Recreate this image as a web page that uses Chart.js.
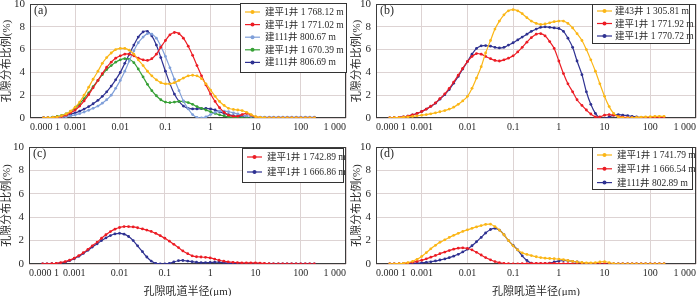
<!DOCTYPE html>
<html>
<head>
<meta charset="utf-8">
<script src="https://cdn.jsdelivr.net/npm/chart.js@4.4.1/dist/chart.umd.min.js"></script>
<style>
  html, body { margin: 0; padding: 0; background: #fff; }
  body { position: relative; width: 700px; height: 296px; overflow: hidden; }
  .panel { position: absolute; }
  canvas { display: block; }
</style>
</head>
<body>
<div class="panel" style="left:0;top:-4px"><canvas id="chartA" width="350" height="138"></canvas></div>
<div class="panel" style="left:350px;top:-4px"><canvas id="chartB" width="350" height="138"></canvas></div>
<div class="panel" style="left:0;top:141px"><canvas id="chartC" width="350" height="158"></canvas></div>
<div class="panel" style="left:350px;top:141px"><canvas id="chartD" width="350" height="158"></canvas></div>
<script>
// pore throat radius (um), shared by every curve
const radius = [
  0.0002, 0.00025, 0.00032, 0.0004, 0.0005, 0.00063, 0.00079,
  0.001, 0.00126, 0.00158, 0.002, 0.0025, 0.0032, 0.004, 0.005, 0.0063, 0.0079,
  0.01, 0.0126, 0.0158, 0.02, 0.025, 0.032, 0.04, 0.05, 0.063, 0.079,
  0.1, 0.126, 0.158, 0.2, 0.25, 0.32, 0.4, 0.5, 0.63, 0.79,
  1, 1.26, 1.58, 2, 2.5, 3.2, 4, 5, 6.3, 7.9,
  10, 12.6, 15.8, 20, 25, 32, 40, 50, 63, 79,
  100, 126, 158, 200
];
const tickValues = [0.0001, 0.001, 0.01, 0.1, 1, 10, 100, 1000];
const tickLabels = ['0.000 1', '0.001', '0.01', '0.1', '1', '10', '100', '1 000'];

// (a)
const labelsA = ['建平1井 1 768.12 m', '建平1井 1 771.02 m', '建111井 800.67 m', '建平1井 1 670.39 m', '建111井 806.69 m'];
const a1768 = [
  0, 0.02, 0.05, 0.1, 0.2, 0.35, 0.6,
  0.95, 1.4, 2.0, 2.7, 3.4, 4.1, 4.8, 5.3, 5.7, 6.0,
  6.1, 6.1, 5.95, 5.6, 5.1, 4.6, 4.1, 3.7, 3.35, 3.1,
  3.0, 3.0, 3.1, 3.3, 3.5, 3.7, 3.75, 3.7, 3.45, 3.0,
  2.45, 1.9, 1.45, 1.1, 0.85, 0.75, 0.7, 0.65, 0.5, 0.3,
  0.12, 0.05, 0.02, 0, 0, 0, 0, 0, 0, 0,
  0, 0, 0, 0
];
const a1771 = [
  0, 0.01, 0.03, 0.07, 0.13, 0.25, 0.45,
  0.7, 1.05, 1.5, 2.05, 2.65, 3.3, 3.9, 4.45, 4.9, 5.25,
  5.45, 5.6, 5.6, 5.45, 5.25, 5.1, 5.05, 5.2, 5.6, 6.2,
  6.8, 7.3, 7.5, 7.4, 7.0, 6.3, 5.5, 4.6, 3.7, 2.9,
  2.1, 1.45, 0.9, 0.5, 0.25, 0.15, 0.15, 0.3, 0.4, 0.25,
  0.08, 0.02, 0, 0, 0, 0, 0, 0, 0, 0,
  0, 0, 0, 0
];
const a800 = [
  0, 0.01, 0.02, 0.05, 0.08, 0.12, 0.18,
  0.27, 0.38, 0.52, 0.68, 0.85, 1.05, 1.3, 1.6, 2.0, 2.6,
  3.3, 4.1, 5.0, 5.9, 6.6, 7.1, 7.4, 7.35, 7.0, 6.3,
  5.4, 4.4, 3.4, 2.4, 1.5, 0.8, 0.3, 0.05, 0, 0.1,
  0.3, 0.5, 0.6, 0.6, 0.55, 0.45, 0.35, 0.25, 0.2, 0.15,
  0.1, 0.08, 0.08, 0.08, 0.08, 0.08, 0.08, 0.08, 0.08, 0.08,
  0.08, 0.08, 0.08, 0.08
];
const a1670 = [
  0, 0.03, 0.07, 0.13, 0.22, 0.37, 0.58,
  0.88, 1.25, 1.7, 2.2, 2.75, 3.3, 3.8, 4.25, 4.6, 4.9,
  5.1, 5.2, 5.15, 4.85, 4.3, 3.6, 2.95, 2.4, 1.95, 1.6,
  1.4, 1.35, 1.4, 1.45, 1.45, 1.35, 1.2, 1.0, 0.85, 0.7,
  0.55, 0.4, 0.28, 0.18, 0.1, 0.05, 0.03, 0, 0, 0,
  0, 0, 0, 0, 0, 0, 0, 0, 0, 0,
  0, 0, 0, 0
];
const a806 = [
  0, 0.02, 0.05, 0.09, 0.15, 0.23, 0.33,
  0.45, 0.6, 0.78, 1.0, 1.25, 1.55, 1.9, 2.3, 2.8, 3.35,
  4.0, 4.8, 5.6, 6.4, 7.1, 7.55, 7.6, 7.2, 6.4, 5.3,
  4.1, 3.0, 2.1, 1.45, 1.05, 0.85, 0.8, 0.8, 0.82, 0.85,
  0.8, 0.7, 0.55, 0.4, 0.3, 0.2, 0.15, 0.1, 0.06, 0.03,
  0.01, 0, 0, 0, 0, 0, 0, 0, 0, 0,
  0, 0, 0, 0
];

// (b)
const labelsB = ['建43井 1 305.81 m', '建平1井 1 771.92 m', '建平1井 1 770.72 m'];
const b1305 = [
  0, 0.02, 0.04, 0.07, 0.1, 0.14, 0.19,
  0.25, 0.3, 0.37, 0.45, 0.55, 0.65, 0.78, 0.95, 1.2, 1.5,
  1.9, 2.6, 3.5, 4.5, 5.7, 6.8, 7.8, 8.5, 9.05, 9.4,
  9.5, 9.4, 9.15, 8.8, 8.5, 8.3, 8.2, 8.25, 8.35, 8.45,
  8.5, 8.5, 8.3, 7.9, 7.4, 6.8, 6.0, 5.1, 4.1, 3.0,
  1.9, 1.0, 0.4, 0.1, 0.02, 0, 0.02, 0.05, 0.08, 0.1,
  0.12, 0.14, 0.15, 0.15
];
const b1771 = [
  0, 0.02, 0.05, 0.1, 0.17, 0.27, 0.4,
  0.57, 0.78, 1.03, 1.33, 1.7, 2.12, 2.6, 3.15, 3.75, 4.35,
  4.95, 5.4, 5.65, 5.6, 5.4, 5.2, 5.05, 5.0, 5.1, 5.25,
  5.45, 5.8, 6.2, 6.65, 7.05, 7.35, 7.4, 7.2, 6.7, 6.1,
  5.0, 3.9, 3.0, 2.3, 1.6, 1.1, 0.7, 0.35, 0.1, 0.1,
  0.25, 0.3, 0.25, 0.15, 0.08, 0.04, 0.02, 0.02, 0.02, 0.02,
  0.02, 0.02, 0.02, 0.02
];
const b1770 = [
  0, 0.02, 0.05, 0.1, 0.17, 0.27, 0.4,
  0.57, 0.78, 1.02, 1.3, 1.65, 2.05, 2.5, 3.05, 3.65, 4.3,
  4.95, 5.6, 6.1, 6.33, 6.35, 6.3, 6.2, 6.15, 6.2, 6.4,
  6.6, 6.85, 7.1, 7.35, 7.6, 7.8, 7.95, 8.0, 7.95, 7.9,
  7.85, 7.6, 7.0, 6.2, 5.0, 3.8, 2.3, 1.2, 0.4, 0,
  -0.05, 0.1, 0.25, 0.3, 0.25, 0.2, 0.15, 0.1, 0.05, 0.02,
  0, 0, 0, 0
];

// (c)
const labelsC = ['建平1井 1 742.89 m', '建平1井 1 666.86 m'];
const c1742 = [
  0, 0.01, 0.03, 0.06, 0.11, 0.2, 0.33,
  0.5, 0.72, 0.97, 1.25, 1.55, 1.87, 2.2, 2.5, 2.77, 2.98,
  3.12, 3.2, 3.2, 3.17, 3.1, 3.0, 2.9, 2.78, 2.62, 2.42,
  2.2, 1.95, 1.68, 1.4, 1.12, 0.88, 0.7, 0.62, 0.6, 0.57,
  0.52, 0.42, 0.32, 0.24, 0.18, 0.14, 0.12, 0.1, 0.1, 0.1,
  0.1, 0.08, 0.05, 0.02, 0, 0, 0, 0, 0, 0,
  0, 0, 0, 0
];
const c1666 = [
  0, 0.01, 0.02, 0.04, 0.08, 0.16, 0.28,
  0.45, 0.66, 0.9, 1.17, 1.45, 1.73, 2.0, 2.23, 2.43, 2.57,
  2.62, 2.55, 2.35, 2.0, 1.55, 1.05, 0.6, 0.25, 0.05, 0,
  0, 0.05, 0.18, 0.28, 0.3, 0.25, 0.2, 0.15, 0.12, 0.12,
  0.13, 0.15, 0.15, 0.12, 0.08, 0.05, 0.02, 0, 0, 0,
  0, 0, 0, 0, 0, 0, 0, 0, 0, 0,
  0, 0, 0, 0
];

// (d)
const labelsD = ['建平1井 1 741.79 m', '建平1井 1 666.54 m', '建111井 802.89 m'];
const d1741 = [
  0, 0.01, 0.03, 0.06, 0.12, 0.23, 0.4,
  0.65, 0.97, 1.3, 1.6, 1.85, 2.07, 2.27, 2.45, 2.62, 2.78,
  2.92, 3.05, 3.17, 3.28, 3.38, 3.4, 3.2, 2.9, 2.5, 2.0,
  1.55, 1.2, 0.95, 0.82, 0.72, 0.62, 0.55, 0.5, 0.47, 0.45,
  0.42, 0.37, 0.3, 0.23, 0.17, 0.13, 0.1, 0.1, 0.12, 0.17,
  0.2, 0.12, 0.03, 0, 0, 0, 0, 0, 0, 0,
  0, 0, 0, 0
];
const d1666 = [
  0, 0.01, 0.02, 0.04, 0.08, 0.14, 0.22,
  0.32, 0.44, 0.58, 0.73, 0.88, 1.02, 1.15, 1.27, 1.35, 1.38,
  1.33, 1.2, 1.0, 0.77, 0.55, 0.36, 0.21, 0.11, 0.05, 0.02,
  0, 0, 0.02, 0.04, 0.05, 0.05, 0.05, 0.05, 0.05, 0.05,
  0.04, 0.03, 0.02, 0.01, 0, 0, 0, 0, 0, 0,
  0, 0, 0, 0, 0, 0, 0, 0, 0, 0,
  0, 0, 0, 0
];
const d802 = [
  0, 0.01, 0.01, 0.02, 0.03, 0.05, 0.07,
  0.1, 0.14, 0.19, 0.26, 0.34, 0.43, 0.54, 0.67, 0.83, 1.03,
  1.27, 1.56, 1.9, 2.27, 2.65, 2.95, 3.05, 2.9, 2.5, 2.0,
  1.6, 1.2, 0.7, 0.3, 0.07, 0, 0, 0.02, 0.08, 0.17,
  0.25, 0.3, 0.28, 0.23, 0.17, 0.1, 0.05, 0.02, 0, 0,
  0, 0, 0, 0, 0, 0, 0, 0, 0, 0,
  0, 0, 0, 0
];

const YELLOW = '#fbb616';
const RED = '#ec1c24';
const LIGHTBLUE = '#7f9fd9';
const GREEN = '#36a035';
const NAVY = '#2e3191';

const serif = "'Liberation Serif', 'Noto Sans CJK SC', serif";
const gridColor = '#ddd3d3';
const ink = '#2a2a2a';

const panelDecor = {
  id: 'panelDecor',
  beforeDatasetsDraw(chart, args, opts) {
    const { ctx, chartArea: a } = chart;
    ctx.save();
    ctx.strokeStyle = '#3c3c3c';
    ctx.lineWidth = 1;
    ctx.strokeRect(Math.round(a.left) + 0.5, Math.round(a.top) + 0.5,
      Math.round(a.right - a.left) - 1, Math.round(a.bottom - a.top) - 1);
    ctx.restore();
  },
  afterDraw(chart, args, opts) {
    const { ctx, chartArea: a } = chart;
    const b = opts.box;
    ctx.save();
    ctx.fillStyle = ink;
    ctx.font = '12px ' + serif;
    ctx.textBaseline = 'middle';
    ctx.fillText(opts.tag, a.left + 4, a.top + 7);

    ctx.fillStyle = '#fff';
    ctx.fillRect(b.x, b.y, b.w, b.h);
    ctx.strokeStyle = '#333';
    ctx.lineWidth = 1;
    ctx.strokeRect(b.x + 0.5, b.y + 0.5, b.w, b.h);

    ctx.font = '9.5px ' + serif;
    chart.data.datasets.forEach((ds, i) => {
      const y = b.y0 + b.row * i;
      ctx.strokeStyle = ds.borderColor;
      ctx.lineWidth = 1.2;
      ctx.beginPath();
      ctx.moveTo(b.lx, y);
      ctx.lineTo(b.lx + 15, y);
      ctx.stroke();
      ctx.fillStyle = ds.borderColor;
      ctx.beginPath();
      ctx.arc(b.lx + 7.5, y, 2, 0, Math.PI * 2);
      ctx.fill();
      ctx.fillStyle = ink;
      ctx.fillText(ds.label, b.tx, y + 0.5);
    });
    ctx.restore();
  }
};

function series(label, color, values) {
  return {
    label: label,
    data: radius.map((r, i) => ({ x: r, y: values[i] })),
    borderColor: color,
    backgroundColor: color,
    borderWidth: 1.2,
    pointRadius: 1.4,
    pointBorderWidth: 0,
    pointBackgroundColor: color,
    tension: 0.35
  };
}

function drawPanel(id, datasets, cfg) {
  new Chart(document.getElementById(id), {
    type: 'line',
    data: { datasets: datasets },
    plugins: [panelDecor],
    options: {
      responsive: false,
      animation: false,
      devicePixelRatio: 1,
      layout: { padding: { top: cfg.top, right: cfg.right, left: 0, bottom: 0 } },
      plugins: {
        legend: { display: false },
        tooltip: { enabled: false },
        panelDecor: { tag: cfg.tag, box: cfg.box }
      },
      scales: {
        x: {
          type: 'logarithmic',
          min: 0.0001,
          max: 1000,
          afterBuildTicks: (s) => { s.ticks = tickValues.map(v => ({ value: v })); },
          afterFit: (s) => {
            s.height = cfg.xh;
            s.paddingLeft = 0; s.paddingRight = 0;
          },
          ticks: {
            autoSkip: false,
            maxRotation: 0,
            align: 'inner',
            padding: 3,
            color: ink,
            font: { family: serif, size: 10 },
            callback: (v, i) => tickLabels[i]
          },
          grid: { color: gridColor, drawTicks: false },
          border: { display: false },
          title: {
            display: cfg.xTitle,
            text: '孔隙吼道半径(μm)',
            color: ink,
            font: { family: serif, size: 11, lineHeight: 1.2 },
            padding: 0
          }
        },
        y: {
          min: 0,
          max: 10,
          afterFit: (s) => {
            s.width = cfg.yw;
            s.paddingTop = 0; s.paddingBottom = 0;
          },
          ticks: {
            stepSize: 2,
            padding: 5,
            color: ink,
            font: { family: serif, size: 11 }
          },
          grid: { color: gridColor, drawTicks: false },
          border: { display: false },
          title: {
            display: true,
            text: '孔隙分布比例(%)',
            color: ink,
            font: { family: serif, size: 11, lineHeight: 1.2 },
            padding: { top: 1, bottom: 0 }
          }
        }
      }
    }
  });
}

drawPanel('chartA', [
  series(labelsA[0], YELLOW, a1768),
  series(labelsA[1], RED, a1771),
  series(labelsA[2], LIGHTBLUE, a800),
  series(labelsA[3], GREEN, a1670),
  series(labelsA[4], NAVY, a806)
], { tag: '(a)', top: 8, right: 2, yw: 30, xh: 16, xTitle: false,
     box: { x: 240, y: 7, w: 106, h: 69, y0: 16, row: 12.6, lx: 245, tx: 265 } });

drawPanel('chartB', [
  series(labelsB[0], YELLOW, b1305),
  series(labelsB[1], RED, b1771),
  series(labelsB[2], NAVY, b1770)
], { tag: '(b)', top: 8, right: 3, yw: 26, xh: 16, xTitle: false,
     box: { x: 242, y: 8, w: 97, h: 39, y0: 15, row: 12.5, lx: 247, tx: 265 } });

drawPanel('chartC', [
  series(labelsC[0], RED, c1742),
  series(labelsC[1], NAVY, c1666)
], { tag: '(c)', top: 6, right: 2, yw: 29, xh: 35, xTitle: true,
     box: { x: 242, y: 7, w: 101, h: 34, y0: 16, row: 15, lx: 247, tx: 267 } });

drawPanel('chartD', [
  series(labelsD[0], YELLOW, d1741),
  series(labelsD[1], RED, d1666),
  series(labelsD[2], NAVY, d802)
], { tag: '(d)', top: 6, right: 3, yw: 26, xh: 35, xTitle: true,
     box: { x: 242, y: 6, w: 100, h: 42, y0: 14, row: 13.8, lx: 247, tx: 267 } });
</script>
</body>
</html>
